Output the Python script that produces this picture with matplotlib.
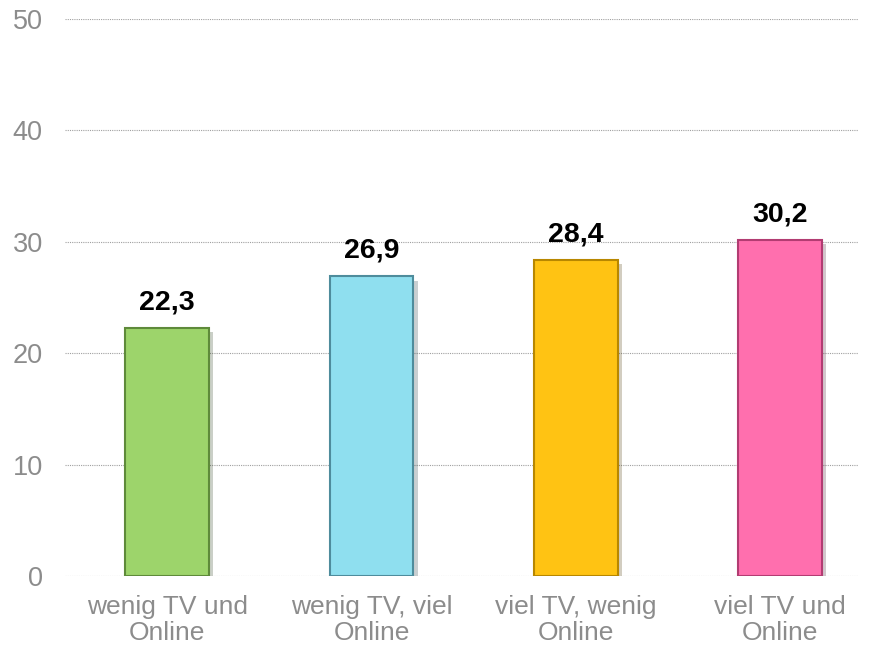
import numpy as np
import matplotlib.pyplot as plt
import matplotlib.patheffects as pe

# Data
categories = ["wenig TV und\nOnline", "wenig TV, viel\nOnline", "viel TV, wenig\nOnline", "viel TV und\nOnline"]
values = [22.3, 26.9, 28.4, 30.2]
labels = ["22,3", "26,9", "28,4", "30,2"]
colors = ["#9DD46B", "#8FDFEF", "#FFC313", "#FF6FAE"]
edges = ["#5E8A3A", "#4E8C9C", "#B88700", "#B23C72"]

plt.rcParams['font.family'] = ['Liberation Sans', 'DejaVu Sans']

fig = plt.figure(figsize=(8.74, 6.51), dpi=100)
ax = fig.add_axes((0.0744, 0.1152, 0.9073, 0.8556))

x = np.arange(len(categories))
bars = ax.bar(x, values, width=0.41, color=colors, edgecolor=edges, linewidth=1.5, zorder=3)
for b in bars:
    b.set_path_effects([pe.SimplePatchShadow(offset=(3, -3), alpha=0.25), pe.Normal()])

for xi, v, lab in zip(x, values, labels):
    ax.annotate(lab, (xi, v), xytext=(0, 9), textcoords="offset points",
                ha="center", va="bottom", fontsize=20.5, fontweight="bold", color="black")

ax.set_ylim(0, 50)
ax.set_xlim(-0.5, 3.38)
ax.set_yticks(range(0, 51, 10))
ax.set_xticks(x)
ax.set_xticklabels(categories, linespacing=1.1)
ax.tick_params(axis="both", length=0, labelsize=19.5, colors="#8C8C8C")
ax.tick_params(axis="x", labelsize=19, pad=14)
ax.tick_params(axis="y", pad=16)
ax.grid(axis="y", linestyle=(0, (1, 1)), color="#A0A0A0", linewidth=0.8, zorder=0)
for s in ax.spines.values():
    s.set_visible(False)

fig.savefig("out.png", dpi=100)
